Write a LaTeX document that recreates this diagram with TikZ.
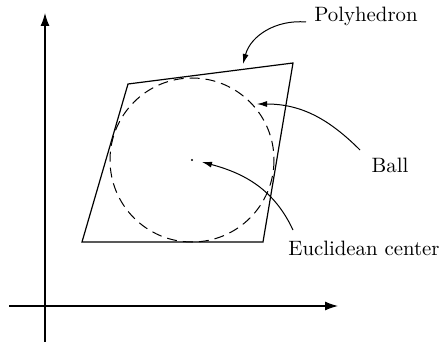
\documentclass[tikz,border=0pt]{standalone}
\usepackage{tikz}
\usetikzlibrary{arrows.meta}
\usetikzlibrary{positioning}

\begin{document}
\begin{tikzpicture}[x=0.5pt,y=-0.5pt,
        lbl/.style={font=\fontsize{10.4}{12}\selectfont, inner sep=1pt},
        axis/.style={line width=0.6pt, -{Latex[length=6.5pt,width=4.5pt]}},
        pointer/.style={-{Latex[length=5pt,width=3pt]}, line width=0.5pt}]
        \useasboundingbox (0,0) rectangle (439,342);
        % axes
        \coordinate (ybot) at (45,342);
        \coordinate (ytop) at (45,13);
        \coordinate (xleft) at (9,306);
        \coordinate (xright) at (338,306);
        \draw[axis] (ybot) -- (ytop);
        \draw[axis] (xleft) -- (xright);
        % polyhedron and ball
        \draw[line width=0.6pt] (128,84) -- (293,63) -- (263,242) -- (82,242) -- cycle;
        \draw[line width=0.5pt, dash pattern=on 5pt off 3pt] (192,160) circle (82);
        \fill (192,160) circle (0.6pt);
        \coordinate (ptop) at (243,64);
        \coordinate (bedge) at (257,104);
        \coordinate (cdot) at (202,162);
        % labels
        \node[lbl] (poly) at (366,16) {Polyhedron};
        \node[lbl] (ball) at (390,165) {Ball};
        \node[lbl, anchor=west] (eucl) at (286,248) {Euclidean center};
        \coordinate (pstart) at (306,22);
        \coordinate (bstart) at (360,150);
        \coordinate (estart) at (293,230);
        \draw[pointer] (pstart) to[out=175, in=75] (ptop);
        \draw[pointer] (bstart) to[out=135, in=0] (bedge);
        \draw[pointer] (estart) to[out=115, in=-15] (cdot);
    \end{tikzpicture}
\end{document}
